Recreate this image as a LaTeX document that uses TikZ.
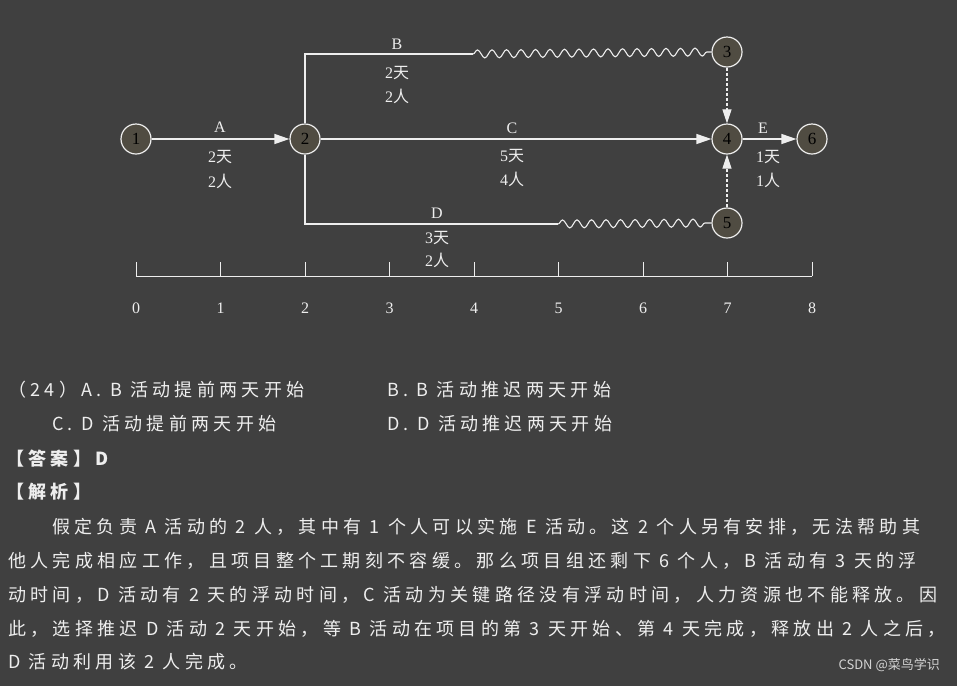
\documentclass[tikz,border=0pt]{standalone}
\usepackage{fontspec}
\usepackage{xcolor}
\setmainfont{Liberation Serif}
\newfontfamily\cjk{Noto Sans CJK SC}
\newfontfamily\cjkw[LetterSpace=24]{Noto Sans CJK SC}
\usetikzlibrary{arrows.meta,decorations.pathmorphing}
\definecolor{bgcol}{RGB}{64,64,64}
\definecolor{evcol}{RGB}{80,76,66}
\definecolor{lncol}{RGB}{238,238,238}
\tikzset{
  event/.style={circle, draw=lncol, fill=evcol, line width=1.2pt, minimum size=30pt, inner sep=0pt, font=\fontsize{17}{17}\selectfont},
  act/.style={draw=lncol, line width=1.3pt, -{Triangle[length=15pt,width=10pt]}},
  plain/.style={draw=lncol, line width=1.3pt},
  wave/.style={draw=lncol, line width=1.1pt, decorate, decoration={snake, amplitude=4pt, segment length=14.5pt}},
  dummy/.style={draw=lncol, line width=1.1pt, dashed, dash pattern=on 3pt off 2pt, -{Triangle[length=14pt,width=9pt]}},
  lbl/.style={text=lncol, font=\fontsize{16}{16}\selectfont, inner sep=0pt},
  txt/.style={text=lncol, anchor=west, inner sep=0pt, font=\cjkw\fontsize{18}{18}\selectfont}
}
\begin{document}
\begin{tikzpicture}[x=1pt, y=-1pt]
  \fill[bgcol] (0,0) rectangle (957,686);
  \useasboundingbox (0,0) rectangle (957,686);
  % events
  \node[event] (n1) at (136,139) {1};
  \node[event] (n2) at (305,139) {2};
  \node[event] (n3) at (727,52) {3};
  \node[event] (n4) at (727,139) {4};
  \node[event] (n5) at (727,223) {5};
  \node[event] (n6) at (812,139) {6};
  \coordinate (bup) at (305,54);
  \coordinate (bend) at (473,54);
  \coordinate (ddown) at (305,224);
  \coordinate (dend) at (558,224);
  % activities
  \draw[act] (n1) -- (n2);
  \draw[act] (n2) -- (n4);
  \draw[act] (n4) -- (n6);
  \draw[plain] (n2.north) -- (bup) -- (bend);
  \draw[wave] (bend) -- (n3.west);
  \draw[plain] (n2.south) -- (ddown) -- (dend);
  \draw[wave] (dend) -- (n5.west);
  \draw[dummy] (n3) -- (n4);
  \draw[dummy] (n5) -- (n4);
  % labels
  \node[lbl] (la) at (220,127) {A};
  \node[lbl] (la1) at (220,157) {2{\cjk 天}};
  \node[lbl] (la2) at (220,181) {2{\cjk 人}};
  \node[lbl] (lb) at (397,44) {B};
  \node[lbl] (lb1) at (397,73) {2{\cjk 天}};
  \node[lbl] (lb2) at (397,96) {2{\cjk 人}};
  \node[lbl] (lc) at (512,128) {C};
  \node[lbl] (lc1) at (512,156) {5{\cjk 天}};
  \node[lbl] (lc2) at (512,179) {4{\cjk 人}};
  \node[lbl] (ld) at (437,213) {D};
  \node[lbl] (ld1) at (437,238) {3{\cjk 天}};
  \node[lbl] (ld2) at (437,260) {2{\cjk 人}};
  \node[lbl] (le) at (763,128) {E};
  \node[lbl] (le1) at (768,157) {1{\cjk 天}};
  \node[lbl] (le2) at (768,180) {1{\cjk 人}};
  % time axis
  \draw[draw=lncol, line width=0.9pt] (136,276) -- (812,276);
  \foreach \i in {0,...,8} {
    \draw[draw=lncol, line width=0.9pt] (136+84.5*\i,276) -- (136+84.5*\i,262);
    \node[lbl] (t\i) at (136+84.5*\i,308) {\i};
  }
  % question text
  \node[txt] (q1) at (8,390) {（24）A. B 活动提前两天开始};
  \node[txt] (q2) at (387,390) {B. B 活动推迟两天开始};
  \node[txt] (q3) at (52,424) {C. D 活动提前两天开始};
  \node[txt] (q4) at (387,424) {D. D 活动推迟两天开始};
  \node[txt] (ans) at (6,459) {\bfseries 【答案】D};
  \node[txt] (jx) at (6,492) {\bfseries 【解析】};
  \node[txt] (p1) at (52,527) {假定负责 A 活动的 2 人，其中有 1 个人可以实施 E 活动。这 2 个人另有安排，无法帮助其};
  \node[txt] (p2) at (8,561) {他人完成相应工作，且项目整个工期刻不容缓。那么项目组还剩下 6 个人，B 活动有 3 天的浮};
  \node[txt] (p3) at (8,595) {动时间，D 活动有 2 天的浮动时间，C 活动为关键路径没有浮动时间，人力资源也不能释放。因};
  \node[txt] (p4) at (8,629) {此，选择推迟 D 活动 2 天开始，等 B 活动在项目的第 3 天开始、第 4 天完成，释放出 2 人之后，};
  \node[txt] (p5) at (8,662) {D 活动利用该 2 人完成。};
  \node[text=lncol!85!bgcol, anchor=east, inner sep=0pt, font=\cjk\fontsize{13}{13}\selectfont] (wm) at (940,665) {CSDN @菜鸟学识};
\end{tikzpicture}
\end{document}
